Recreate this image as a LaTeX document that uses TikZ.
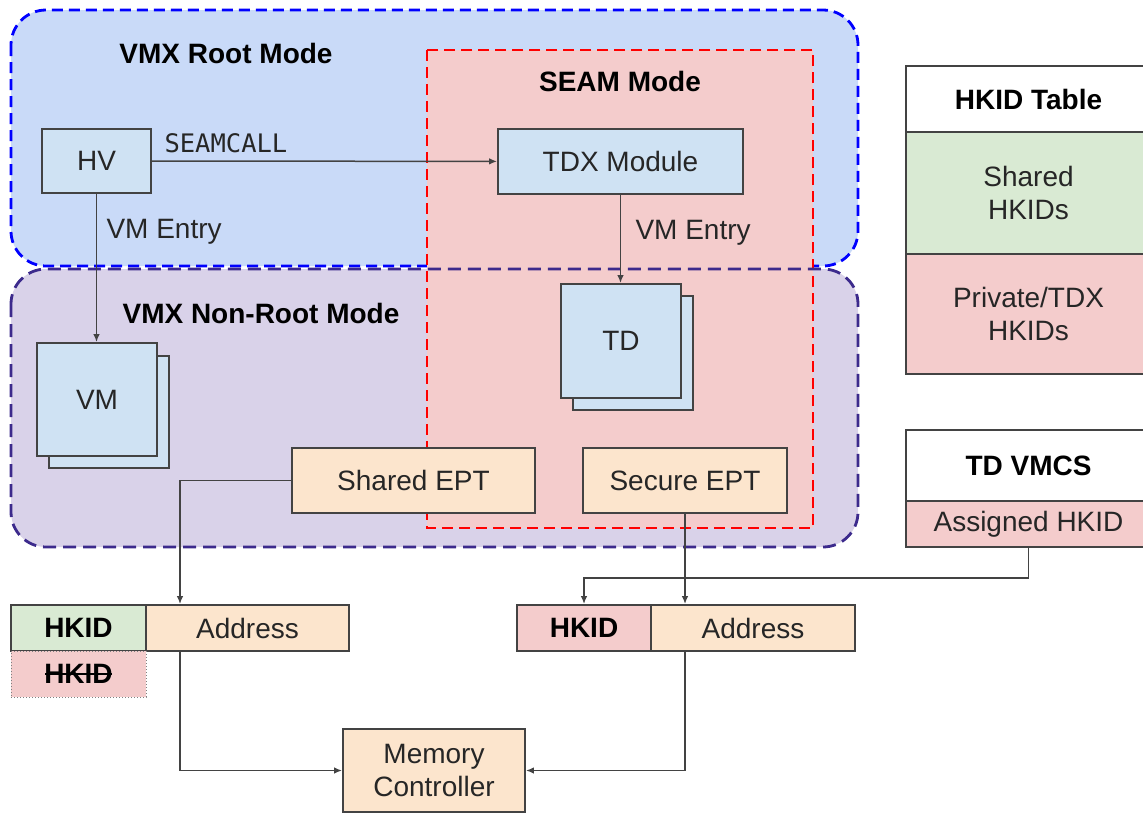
\documentclass[tikz,border=0pt]{standalone}
\usepackage{fontspec}
\setmainfont{Liberation Sans}
\newfontfamily\seamfont{DejaVu Sans Mono}
\usetikzlibrary{arrows.meta}

\definecolor{rootblue}{HTML}{C9DAF8}
\definecolor{nonrootpurple}{HTML}{D9D2E9}
\definecolor{seampink}{HTML}{F4CCCC}
\definecolor{vmblue}{HTML}{CFE2F3}
\definecolor{eptorange}{HTML}{FCE5CD}
\definecolor{sharedgreen}{HTML}{D9EAD3}
\definecolor{edgegray}{HTML}{434343}
\definecolor{labelgray}{HTML}{262626}
\definecolor{purpleline}{HTML}{3C2A8C}

\tikzset{box/.style = {shape = rectangle,
                       draw = edgegray,
                       line width = 1.8pt,
                       inner sep = 0pt,
                       text = labelgray,
                       font = \fontsize{28}{33}\selectfont,
                       align = center},
         title/.style = {font = \fontsize{28}{33}\selectfont\bfseries,
                         text = black},
         lbl/.style = {font = \fontsize{28}{33}\selectfont,
                       text = labelgray,
                       anchor = west},
         link/.style = {draw = edgegray,
                        line width = 1.5pt,
                        -{Latex[length=8pt, width=6.5pt]}},
         region/.style = {rounded corners = 35pt,
                          line width = 2.8pt,
                          dash pattern = on 11pt off 6pt}}

\begin{document}
\begin{tikzpicture}[x=1pt, y=-1pt]
		\useasboundingbox (0,0) rectangle (1143,814);
		% modes
		\draw[region, fill=rootblue, draw=blue] (11,10) rectangle (858,266);
		\fill[region, nonrootpurple] (11,269) rectangle (858,547);
		\draw[region, rounded corners=0pt, fill=seampink, draw=red] (427,50) rectangle (813,528);
		\draw[region, draw=purpleline, dash pattern=on 13pt off 7pt] (11,269) rectangle (858,547);
		\node[title] (roottitle) at (226,53) {VMX Root Mode};
		\node[title] (seamtitle) at (620,81) {SEAM Mode};
		\node[title] (nonroottitle) at (261,313) {VMX Non-Root Mode};
		% software
		\node[box, fill=vmblue, minimum width=109pt, minimum height=64pt] (hv) at (96.5,161) {HV};
		\node[box, fill=vmblue, minimum width=245pt, minimum height=65pt] (tdx) at (620.5,161.5) {TDX Module};
		\node[box, fill=vmblue, minimum width=120pt, minimum height=112pt] (vmback) at (109,412) {};
		\node[box, fill=vmblue, minimum width=120pt, minimum height=113pt] (vm) at (97,399.5) {VM};
		\node[box, fill=vmblue, minimum width=120pt, minimum height=114pt] (tdback) at (633,353) {};
		\node[box, fill=vmblue, minimum width=120pt, minimum height=114pt] (td) at (621,341) {TD};
		\node[box, fill=eptorange, minimum width=243pt, minimum height=65pt] (shept) at (413.5,480.5) {Shared EPT};
		\node[box, fill=eptorange, minimum width=204pt, minimum height=65pt] (seept) at (685,480.5) {Secure EPT};
		% physical addresses
		\node[box, fill=sharedgreen, minimum width=135pt, minimum height=46pt, font=\fontsize{28}{33}\selectfont\bfseries, text=black] (hkL) at (78.5,628) {HKID};
		\node[box, fill=eptorange, minimum width=203pt, minimum height=46pt] (addrL) at (247.5,628) {Address};
		\node[box, fill=seampink, draw=gray, line width=0.9pt, dash pattern=on 1pt off 2pt, minimum width=135pt, minimum height=46pt, font=\fontsize{28}{33}\selectfont\bfseries, text=black] (hkstruck) at (78.5,674) {HKID};
		\draw[line width=1.8pt] ([xshift=-33.5pt]hkstruck.center) -- ([xshift=33pt]hkstruck.center);
		\node[box, fill=seampink, minimum width=134pt, minimum height=46pt, font=\fontsize{28}{33}\selectfont\bfseries, text=black] (hkR) at (584,628) {HKID};
		\node[box, fill=eptorange, minimum width=204pt, minimum height=46pt] (addrR) at (753,628) {Address};
		\node[box, fill=eptorange, minimum width=182pt, minimum height=83pt] (mc) at (434,770.5) {Memory\\Controller};
		% tables
		\node[box, fill=white, minimum width=245pt, minimum height=66pt, font=\fontsize{28}{33}\selectfont\bfseries, text=black] (hktitle) at (1028.5,99) {HKID Table};
		\node[box, fill=sharedgreen, minimum width=245pt, minimum height=122pt] (hkshared) at (1028.5,193) {Shared\\HKIDs};
		\node[box, fill=seampink, minimum width=245pt, minimum height=120pt] (hkprivate) at (1028.5,314) {Private/TDX\\HKIDs};
		\node[box, fill=white, minimum width=245pt, minimum height=71pt, font=\fontsize{28}{33}\selectfont\bfseries, text=black] (vmcs) at (1028.5,465.5) {TD VMCS};
		\node[box, fill=seampink, minimum width=245pt, minimum height=46pt] (asg) at (1028.5,524) {Assigned HKID};
		% arrows
		\draw[link] (hv) -- (tdx);
		\node[lbl, font=\seamfont\fontsize{25.5}{30}\selectfont] (seamcall) at (161,143) {SEAMCALL};
		\draw[link] (hv.south) -- (hv.south |- vm.north);
		\node[lbl] (hvent) at (103,232) {VM Entry};
		\draw[link] (tdx.south) -- (tdx.south |- td.north);
		\node[lbl] (tdxent) at (632,233) {VM Entry};
		\draw[link] (shept.west) -| ([xshift=-67.5pt]addrL.north);
		\draw[link] (seept.south) -- (seept.south |- addrR.north);
		\draw[link] (asg.south) -- ++(0,30) -| (hkR.north);
		\draw[link] ([xshift=-67.5pt]addrL.south) |- (mc.west);
		\draw[link] ([xshift=-68pt]addrR.south) |- (mc.east);
\end{tikzpicture}
\end{document}
